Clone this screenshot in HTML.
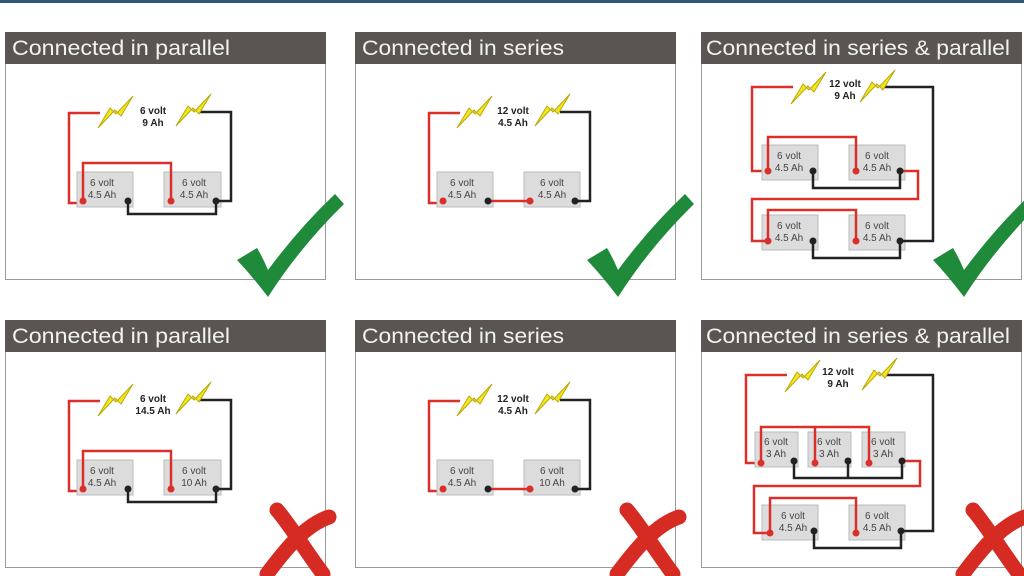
<!DOCTYPE html>
<html><head><meta charset="utf-8"><style>
html,body{margin:0;padding:0;background:#fff;width:1024px;height:576px;overflow:hidden}
svg{display:block}
.hd{font-family:"Liberation Sans",sans-serif;font-size:21px;fill:#f2f2f2}
.bt{font-family:"Liberation Sans",sans-serif;font-size:10px;fill:#444;text-anchor:middle}
.lb{font-family:"Liberation Sans",sans-serif;font-size:10px;font-weight:bold;fill:#222;text-anchor:middle}
.r{stroke:#d9302c;stroke-width:2.5;fill:none}
.k{stroke:#222;stroke-width:2.5;fill:none}
.bat{fill:#dcdcdc;stroke:#bbb;stroke-width:1}
</style></head><body>
<svg width="1024" height="576" viewBox="0 0 1024 576">
<defs>
<g id="bolt"><polygon points="0,32 12,12 18,18 35,0 23,20 17,14" fill="#f3e61c" stroke="#b9a80a" stroke-width="1"/></g>
<g id="chk"><path d="M232,228 L252,216 Q258,226 263,238 Q295,195 330,162 L339,172 Q295,215 263,265 Q248,245 232,228 Z" fill="#1e8a3a"/></g>
<g id="x"><path d="M272,190 C285,205 300,230 318,254" stroke="#d52b22" stroke-width="15" fill="none" stroke-linecap="round"/><path d="M262,254 C280,230 300,205 324,197" stroke="#d52b22" stroke-width="15" fill="none" stroke-linecap="round"/></g>
<g id="frame"><rect x="0.5" y="0.5" width="320" height="247" fill="#fff" stroke="#9a9a9a"/><rect x="0" y="0" width="321" height="32" fill="#5a5553"/></g>
</defs>
<rect x="0" y="0" width="1024" height="3" fill="#2b5876"/>

<!-- Panel 1 -->
<g transform="translate(5,32)">
<use href="#frame"/><text class="hd" x="7" y="23" textLength="218" lengthAdjust="spacingAndGlyphs">Connected in parallel</text>
<path class="r" d="M95,81 H64 V171 H78"/>
<rect class="bat" x="72" y="140" width="56" height="35"/><rect class="bat" x="159" y="140" width="57" height="35"/>
<path class="r" d="M78,169 V131 H166 V169"/>
<path class="k" d="M123,169 V182 H211 V169 M211,169 H226 V80 H195"/>
<use href="#bolt" x="93" y="64"/><use href="#bolt" x="171" y="62"/>
<text class="lb" x="148" y="82">6 volt</text><text class="lb" x="148" y="94">9 Ah</text>
<text class="bt" x="97" y="154">6 volt</text><text class="bt" x="97" y="166">4.5 Ah</text>
<text class="bt" x="189" y="154">6 volt</text><text class="bt" x="189" y="166">4.5 Ah</text>
<circle cx="78" cy="169" r="3.5" fill="#d9302c"/><circle cx="123" cy="169" r="3.5" fill="#222"/><circle cx="166" cy="169" r="3.5" fill="#d9302c"/><circle cx="211" cy="169" r="3.5" fill="#222"/>
<use href="#chk"/>
</g>

<!-- Panel 2 -->
<g transform="translate(355,32)">
<use href="#frame"/><text class="hd" x="7" y="23" textLength="202" lengthAdjust="spacingAndGlyphs">Connected in series</text>
<path class="r" d="M105,81 H74 V171 H88"/>
<rect class="bat" x="82" y="140" width="56" height="35"/><rect class="bat" x="169" y="140" width="56" height="35"/>
<path class="r" d="M133,169 H175"/>
<path class="k" d="M220,169 H235 V80 H205"/>
<use href="#bolt" x="102" y="64"/><use href="#bolt" x="180" y="62"/>
<text class="lb" x="158" y="82">12 volt</text><text class="lb" x="158" y="94">4.5 Ah</text>
<text class="bt" x="107" y="154">6 volt</text><text class="bt" x="107" y="166">4.5 Ah</text>
<text class="bt" x="197" y="154">6 volt</text><text class="bt" x="197" y="166">4.5 Ah</text>
<circle cx="88" cy="169" r="3.5" fill="#d9302c"/><circle cx="133" cy="169" r="3.5" fill="#222"/><circle cx="175" cy="169" r="3.5" fill="#d9302c"/><circle cx="220" cy="169" r="3.5" fill="#222"/>
<use href="#chk"/>
</g>

<!-- Panel 3 -->
<g transform="translate(701,32)">
<use href="#frame"/><text class="hd" x="5" y="23" textLength="304" lengthAdjust="spacingAndGlyphs">Connected in series &amp; parallel</text>
<path class="r" d="M92,55 H51 V139 H67"/>
<rect class="bat" x="61" y="113" width="56" height="35"/><rect class="bat" x="148" y="113" width="56" height="35"/>
<rect class="bat" x="61" y="183" width="56" height="35"/><rect class="bat" x="148" y="183" width="56" height="35"/>
<path class="r" d="M67,139 V105 H155 V139"/>
<path class="k" d="M112,139 V156 H199 V139"/>
<path class="r" d="M199,139 H217 V167 H51 V209 H67"/>
<path class="r" d="M67,209 V178 H155 V209"/>
<path class="k" d="M112,209 V226 H199 V209 M199,209 H232 V55 H180"/>
<use href="#bolt" x="90" y="40"/><use href="#bolt" x="159" y="38"/>
<text class="lb" x="144" y="55">12 volt</text><text class="lb" x="144" y="67">9 Ah</text>
<text class="bt" x="88" y="127">6 volt</text><text class="bt" x="88" y="139">4.5 Ah</text>
<text class="bt" x="176" y="127">6 volt</text><text class="bt" x="176" y="139">4.5 Ah</text>
<text class="bt" x="88" y="197">6 volt</text><text class="bt" x="88" y="209">4.5 Ah</text>
<text class="bt" x="176" y="197">6 volt</text><text class="bt" x="176" y="209">4.5 Ah</text>
<circle cx="67" cy="139" r="3.5" fill="#d9302c"/><circle cx="112" cy="139" r="3.5" fill="#222"/><circle cx="155" cy="139" r="3.5" fill="#d9302c"/><circle cx="199" cy="139" r="3.5" fill="#222"/>
<circle cx="67" cy="209" r="3.5" fill="#d9302c"/><circle cx="112" cy="209" r="3.5" fill="#222"/><circle cx="155" cy="209" r="3.5" fill="#d9302c"/><circle cx="199" cy="209" r="3.5" fill="#222"/>
<use href="#chk"/>
</g>

<!-- Panel 4 -->
<g transform="translate(5,320)">
<use href="#frame"/><text class="hd" x="7" y="23" textLength="218" lengthAdjust="spacingAndGlyphs">Connected in parallel</text>
<path class="r" d="M95,81 H64 V171 H78"/>
<rect class="bat" x="72" y="140" width="56" height="35"/><rect class="bat" x="159" y="140" width="57" height="35"/>
<path class="r" d="M78,169 V131 H166 V169"/>
<path class="k" d="M123,169 V182 H211 V169 M211,169 H226 V80 H195"/>
<use href="#bolt" x="93" y="64"/><use href="#bolt" x="171" y="62"/>
<text class="lb" x="148" y="82">6 volt</text><text class="lb" x="148" y="94">14.5 Ah</text>
<text class="bt" x="97" y="154">6 volt</text><text class="bt" x="97" y="166">4.5 Ah</text>
<text class="bt" x="189" y="154">6 volt</text><text class="bt" x="189" y="166">10 Ah</text>
<circle cx="78" cy="169" r="3.5" fill="#d9302c"/><circle cx="123" cy="169" r="3.5" fill="#222"/><circle cx="166" cy="169" r="3.5" fill="#d9302c"/><circle cx="211" cy="169" r="3.5" fill="#222"/>
<use href="#x"/>
</g>

<!-- Panel 5 -->
<g transform="translate(355,320)">
<use href="#frame"/><text class="hd" x="7" y="23" textLength="202" lengthAdjust="spacingAndGlyphs">Connected in series</text>
<path class="r" d="M105,81 H74 V171 H88"/>
<rect class="bat" x="82" y="140" width="56" height="35"/><rect class="bat" x="169" y="140" width="56" height="35"/>
<path class="r" d="M133,169 H175"/>
<path class="k" d="M220,169 H235 V80 H205"/>
<use href="#bolt" x="102" y="64"/><use href="#bolt" x="180" y="62"/>
<text class="lb" x="158" y="82">12 volt</text><text class="lb" x="158" y="94">4.5 Ah</text>
<text class="bt" x="107" y="154">6 volt</text><text class="bt" x="107" y="166">4.5 Ah</text>
<text class="bt" x="197" y="154">6 volt</text><text class="bt" x="197" y="166">10 Ah</text>
<circle cx="88" cy="169" r="3.5" fill="#d9302c"/><circle cx="133" cy="169" r="3.5" fill="#222"/><circle cx="175" cy="169" r="3.5" fill="#d9302c"/><circle cx="220" cy="169" r="3.5" fill="#222"/>
<use href="#x"/>
</g>

<!-- Panel 6 -->
<g transform="translate(701,320)">
<use href="#frame"/><text class="hd" x="5" y="23" textLength="304" lengthAdjust="spacingAndGlyphs">Connected in series &amp; parallel</text>
<path class="r" d="M86,55 H45 V143 H60"/>
<rect class="bat" x="54" y="112" width="43" height="35"/><rect class="bat" x="107" y="112" width="43" height="35"/><rect class="bat" x="161" y="112" width="43" height="35"/>
<rect class="bat" x="61" y="185" width="56" height="35"/><rect class="bat" x="148" y="185" width="56" height="35"/>
<path class="r" d="M60,143 V107 H168 V143 M114,107 V143"/>
<path class="k" d="M93,141 V158 H201 V141 M147,141 V158"/>
<path class="r" d="M201,141 H219 V166 H53 V213 H69"/>
<path class="r" d="M69,213 V178 H155 V213"/>
<path class="k" d="M113,211 V228 H200 V211 M200,211 H232 V55 H183"/>
<use href="#bolt" x="84" y="40"/><use href="#bolt" x="161" y="38"/>
<text class="lb" x="137" y="55">12 volt</text><text class="lb" x="137" y="67">9 Ah</text>
<text class="bt" x="75" y="125">6 volt</text><text class="bt" x="75" y="137">3 Ah</text>
<text class="bt" x="128" y="125">6 volt</text><text class="bt" x="128" y="137">3 Ah</text>
<text class="bt" x="182" y="125">6 volt</text><text class="bt" x="182" y="137">3 Ah</text>
<text class="bt" x="92" y="199">6 volt</text><text class="bt" x="92" y="211">4.5 Ah</text>
<text class="bt" x="176" y="199">6 volt</text><text class="bt" x="176" y="211">4.5 Ah</text>
<circle cx="60" cy="143" r="3.5" fill="#d9302c"/><circle cx="93" cy="141" r="3.5" fill="#222"/><circle cx="114" cy="143" r="3.5" fill="#d9302c"/><circle cx="147" cy="141" r="3.5" fill="#222"/><circle cx="168" cy="143" r="3.5" fill="#d9302c"/><circle cx="201" cy="141" r="3.5" fill="#222"/>
<circle cx="69" cy="213" r="3.5" fill="#d9302c"/><circle cx="113" cy="211" r="3.5" fill="#222"/><circle cx="155" cy="213" r="3.5" fill="#d9302c"/><circle cx="200" cy="211" r="3.5" fill="#222"/>
<use href="#x"/>
</g>
</svg>
</body></html>
